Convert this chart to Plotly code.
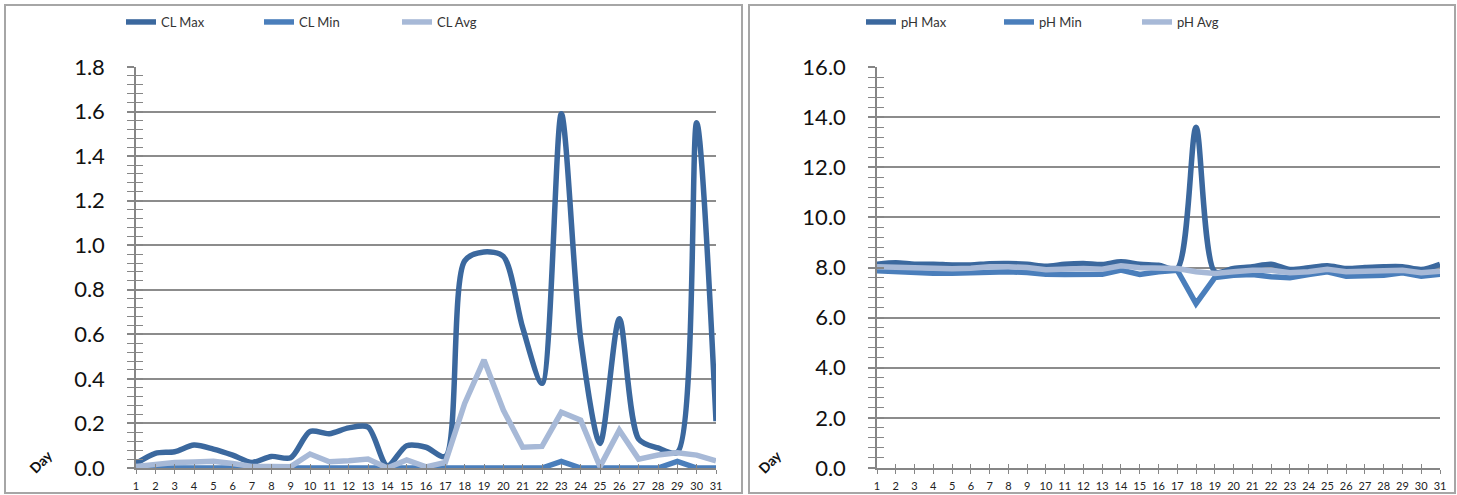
import plotly.graph_objects as go

days = list(range(1, 32))
day_labels = [str(d) for d in days]

cl_max = [0.02, 0.066, 0.073, 0.103, 0.085, 0.058, 0.025, 0.052, 0.046, 0.164,
          0.154, 0.18, 0.184, 0.01, 0.10, 0.093, 0.052, 0.93, 0.97, 0.95,
          0.63, 0.38, 1.59, 0.58, 0.11, 0.67, 0.13, 0.09, 0.07, 1.55, 0.21]
cl_min = [0.0] * 22 + [0.03, 0.0, 0.0, 0.0, 0.0, 0.0, 0.03, 0.0, 0.0]
cl_avg = [0.007, 0.016, 0.025, 0.027, 0.03, 0.02, 0.007, 0.007, 0.006, 0.063,
          0.028, 0.033, 0.04, 0.0, 0.036, 0.005, 0.025, 0.29, 0.485, 0.26,
          0.093, 0.097, 0.25, 0.215, 0.006, 0.17, 0.04, 0.058, 0.068, 0.058, 0.032]

ph_max = [8.13, 8.19, 8.13, 8.13, 8.10, 8.10, 8.15, 8.16, 8.13, 8.05,
          8.13, 8.16, 8.12, 8.23, 8.13, 8.09, 7.96, 13.6, 7.83, 7.96,
          8.03, 8.13, 7.92, 7.99, 8.07, 7.96, 8.00, 8.03, 8.03, 7.92, 8.13]
ph_min = [7.87, 7.83, 7.80, 7.77, 7.77, 7.80, 7.85, 7.83, 7.80, 7.73,
          7.72, 7.72, 7.73, 7.90, 7.72, 7.83, 7.89, 6.56, 7.60, 7.69,
          7.72, 7.63, 7.59, 7.72, 7.83, 7.65, 7.69, 7.69, 7.79, 7.65, 7.73]
ph_avg = [8.03, 8.00, 7.97, 7.96, 7.95, 7.97, 8.03, 8.03, 8.00, 7.91,
          7.95, 7.96, 7.93, 8.07, 7.99, 7.96, 7.96, 7.83, 7.76, 7.83,
          7.89, 7.89, 7.79, 7.83, 7.93, 7.83, 7.85, 7.89, 7.89, 7.79, 7.85]

C_MAX = "#3B689E"
C_MIN = "#4A7EBB"
C_AVG = "#A7B9D7"
GRID = "#8C8C8C"
AX = "#868686"
FONT = "Lato, Open Sans, sans-serif"

W, H = 1457, 495


def px_x(p):
    return p / W


def px_y(p):
    return 1 - p / H


fig = go.Figure()

for name, vals, col, smooth in [("CL Max", cl_max, C_MAX, True),
                                ("CL Min", cl_min, C_MIN, False),
                                ("CL Avg", cl_avg, C_AVG, False)]:
    fig.add_trace(go.Scatter(
        x=days, y=vals, name=name, mode="lines", cliponaxis=False,
        line=dict(color=col, width=5.5, shape="spline" if smooth else "linear",
                  smoothing=0.8),
        xaxis="x", yaxis="y", legend="legend"))

for name, vals, col, smooth in [("pH Max", ph_max, C_MAX, True),
                                ("pH Min", ph_min, C_MIN, False),
                                ("pH Avg", ph_avg, C_AVG, False)]:
    fig.add_trace(go.Scatter(
        x=days, y=vals, name=name, mode="lines", cliponaxis=False,
        line=dict(color=col, width=5.5, shape="spline" if smooth else "linear",
                  smoothing=0.8),
        xaxis="x2", yaxis="y2", legend="legend2"))

ydom = [px_y(468), px_y(67)]
xdom1 = [px_x(136), px_x(716)]
xdom2 = [px_x(877), px_x(1440)]

xcommon = dict(range=[1, 31], tickmode="array", tickvals=days, ticktext=day_labels,
               showgrid=False, zeroline=False, showline=True, linecolor=AX,
               linewidth=1.5, ticks="outside", ticklen=4, tickcolor=AX,
               tickwidth=1.2, tickfont=dict(family=FONT, size=11, color="#222"),
               ticklabelstandoff=3, automargin=False, fixedrange=True)
ycommon = dict(showgrid=True, gridcolor=GRID, gridwidth=1.5, zeroline=False,
               showline=True, linecolor=AX, linewidth=1.5, ticks="outside",
               ticklen=7, tickcolor=AX, tickwidth=1.5,
               tickfont=dict(family=FONT, size=22, color="#111"),
               ticklabelstandoff=18, automargin=False, fixedrange=True)

legend_font = dict(family=FONT, size=13, color="#333")

fig.update_layout(
    width=W, height=H,
    margin=dict(l=0, r=0, t=0, b=0),
    paper_bgcolor="white", plot_bgcolor="white",
    showlegend=True,
    xaxis=dict(domain=xdom1, anchor="y", **xcommon),
    yaxis=dict(domain=ydom, anchor="x", range=[0, 1.8], dtick=0.2, tickformat=".1f",
               minor=dict(dtick=0.04, ticks="outside", ticklen=7, tickcolor=AX,
                          tickwidth=1.2, showgrid=False),
               **ycommon),
    xaxis2=dict(domain=xdom2, anchor="y2", **xcommon),
    yaxis2=dict(domain=ydom, anchor="x2", range=[0, 16], dtick=2, tickformat=".1f",
                minor=dict(dtick=0.4, ticks="outside", ticklen=7, tickcolor=AX,
                           tickwidth=1.2, showgrid=False),
                **ycommon),
    # overlay axes to make the tick marks cross the axis lines
    yaxis3=dict(overlaying="y", anchor="x", side="left", range=[0, 1.8], dtick=0.2,
                ticks="inside", ticklen=7, tickcolor=AX, tickwidth=1.5,
                showticklabels=False, showgrid=False, zeroline=False, showline=False,
                minor=dict(dtick=0.04, ticks="inside", ticklen=7, tickcolor=AX,
                           tickwidth=1.2), fixedrange=True),
    yaxis4=dict(overlaying="y2", anchor="x2", side="left", range=[0, 16], dtick=2,
                ticks="inside", ticklen=7, tickcolor=AX, tickwidth=1.5,
                showticklabels=False, showgrid=False, zeroline=False, showline=False,
                minor=dict(dtick=0.4, ticks="inside", ticklen=7, tickcolor=AX,
                           tickwidth=1.2), fixedrange=True),
    xaxis3=dict(overlaying="x", anchor="y", range=[1, 31], tickmode="array",
                tickvals=days, ticks="inside", ticklen=4, tickcolor=AX, tickwidth=1.2,
                showticklabels=False, showgrid=False, zeroline=False, showline=False,
                fixedrange=True),
    xaxis4=dict(overlaying="x2", anchor="y2", range=[1, 31], tickmode="array",
                tickvals=days, ticks="inside", ticklen=4, tickcolor=AX, tickwidth=1.2,
                showticklabels=False, showgrid=False, zeroline=False, showline=False,
                fixedrange=True),
    legend=dict(orientation="h", x=px_x(121), xanchor="left", y=px_y(22),
                yanchor="middle", entrywidth=93, bgcolor="rgba(0,0,0,0)",
                font=legend_font),
    legend2=dict(orientation="h", x=px_x(861), xanchor="left", y=px_y(22),
                 yanchor="middle", entrywidth=93, bgcolor="rgba(0,0,0,0)",
                 font=legend_font),
    shapes=[
        dict(type="rect", xref="paper", yref="paper", x0=px_x(5), x1=px_x(742),
             y0=px_y(493), y1=px_y(5), line=dict(color="#A6A6A6", width=2)),
        dict(type="rect", xref="paper", yref="paper", x0=px_x(749), x1=px_x(1455),
             y0=px_y(493), y1=px_y(5), line=dict(color="#A6A6A6", width=2)),
    ],
    annotations=[
        dict(text="<b>Day</b>", xref="paper", yref="paper", x=px_x(23), y=px_y(479),
             showarrow=False, textangle=-45,
             font=dict(family=FONT, size=14, color="#111")),
        dict(text="<b>Day</b>", xref="paper", yref="paper", x=px_x(770), y=px_y(479),
             showarrow=False, textangle=-45,
             font=dict(family=FONT, size=14, color="#111")),
    ],
)

# dummy traces on overlay axes so they render
fig.add_trace(go.Scatter(x=[None], y=[None], xaxis="x3", yaxis="y3", showlegend=False,
                         hoverinfo="skip"))
fig.add_trace(go.Scatter(x=[None], y=[None], xaxis="x4", yaxis="y4", showlegend=False,
                         hoverinfo="skip"))

fig.write_html("out.html",
               config={"displayModeBar": False},
               post_script="document.body.style.margin='0';"
                           "document.body.style.overflow='hidden';")
